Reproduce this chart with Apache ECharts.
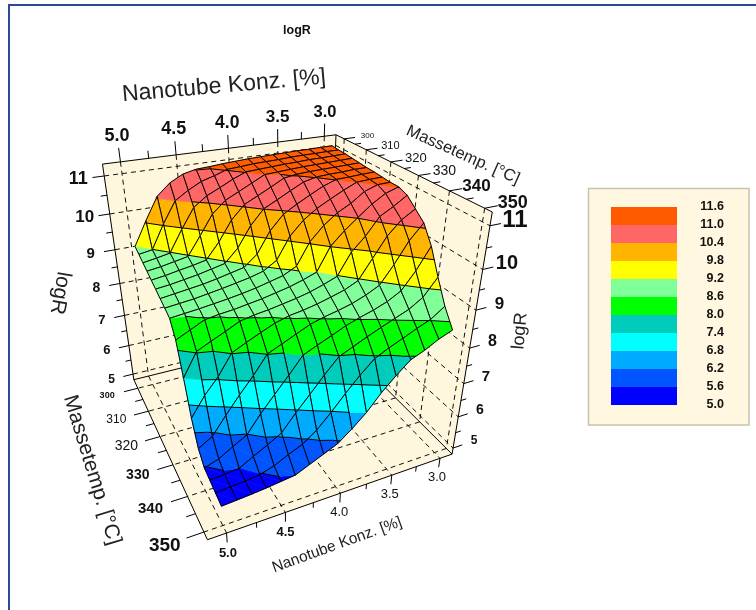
<!DOCTYPE html>
<html><head><meta charset="utf-8">
<style>html,body{margin:0;padding:0;background:#fff}#c{width:756px;height:610px}</style>
<script src="https://cdn.jsdelivr.net/npm/echarts@6/dist/echarts.min.js"></script>
</head><body><div id="c"></div>
<script>
// ---------- data ----------
const conc = [5,4.875,4.75,4.625,4.5,4.375,4.25,4.125,4,3.875,3.75,3.625,3.5,3.375,3.25,3.125,3];
const temp = [300,303.125,306.25,309.375,312.5,315.625,318.75,321.875,325,328.125,331.25,334.375,337.5,340.625,343.75,346.875,350];
// one row per conc, one column per temp
const logR = [
[9.2,9.13,9.05,8.98,8.9,8.83,8.75,8.68,8.6,8.22,7.4,6.5,5.87,5.58,5.52,5.46,5.4],
[9.85,9.19,9.11,9.03,8.95,8.87,8.8,8.72,8.64,8.4,8.03,7.04,6.11,5.72,5.56,5.5,5.43],
[10.45,9.84,9.18,9.1,9.02,8.93,8.85,8.76,8.68,8.58,8.21,7.47,6.61,5.96,5.6,5.53,5.46],
[10.75,10.4,9.76,9.17,9.08,8.99,8.9,8.82,8.73,8.64,8.38,8.02,7.08,6.18,5.83,5.58,5.5],
[10.93,10.62,10.29,9.67,9.16,9.07,8.97,8.88,8.78,8.68,8.56,8.2,7.52,6.68,6.04,5.71,5.55],
[11.01,10.8,10.54,10.19,9.58,9.15,9.05,8.95,8.84,8.74,8.64,8.37,8.01,7.12,6.27,5.91,5.6],
[11.03,10.9,10.7,10.49,10.1,9.5,9.13,9.02,8.91,8.8,8.69,8.53,8.18,7.55,6.73,6.09,5.78],
[11.06,11.02,10.87,10.66,10.45,10.03,9.42,9.12,9,8.88,8.76,8.64,8.35,8,7.15,6.38,5.96],
[11.08,11.04,11.01,10.83,10.62,10.41,9.97,9.34,9.09,8.96,8.83,8.7,8.52,8.17,7.58,6.77,6.14],
[11.1,11.07,11.03,11,10.79,10.58,10.34,9.91,9.27,9.07,8.92,8.78,8.63,8.33,7.98,7.2,6.45],
[11.11,11.08,11.05,11.02,10.97,10.76,10.54,10.26,9.85,9.2,9.04,8.88,8.71,8.5,8.15,7.6,6.8],
[11.12,11.09,11.07,11.04,11.02,10.93,10.72,10.5,10.2,9.81,9.18,8.99,8.81,8.63,8.32,7.95,7.24],
[11.13,11.11,11.08,11.06,11.04,11.01,10.89,10.68,10.46,10.14,9.74,9.16,8.95,8.74,8.48,8.14,7.61],
[11.14,11.12,11.1,11.07,11.05,11.03,11.01,10.85,10.64,10.42,10.08,9.66,9.13,8.88,8.63,8.3,7.94],
[11.14,11.12,11.1,11.08,11.06,11.04,11.02,11,10.88,10.69,10.51,10.16,9.59,9.08,8.78,8.47,8.1],
[11.15,11.13,11.11,11.09,11.07,11.06,11.04,11.02,11,10.9,10.7,10.5,10.12,9.52,9.01,8.62,8.3],
[11.15,11.13,11.12,11.1,11.08,11.06,11.05,11.03,11.01,11.01,10.92,10.71,10.5,10.07,9.45,8.88,8.45]
];
const levels = [5.0,5.6,6.2,6.8,7.4,8.0,8.6,9.2,9.8,10.4,11.0,11.6];
const levelLabels = ['5.0','5.6','6.2','6.8','7.4','8.0','8.6','9.2','9.8','10.4','11.0','11.6'];
const bandColors = ['#0000FF','#0055FF','#00AAFF','#00FFFF','#00CCBB','#00FF00','#80FF99','#FFFF00','#FFB400','#FF6666','#FF5A00'];
const concTicks = [5,4.5,4,3.5,3];
const concMinor = [4.75,4.25,3.75,3.25];
const tempTicks = [300,310,320,330,340,350];
const tempMinor = [305,315,325,335,345];
const zTicks = [5,6,7,8,9,10,11];
const zMinor = [5.5,6.5,7.5,8.5,9.5,10.5];
const concLabels = ['5.0','4.5','4.0','3.5','3.0'];
const topConcFont = [18,18,17.5,17,16.5];
const lowConcFont = [13,13,13,13,13];
const topTempFont = [8,11,13,14,17,18];
const lowTempFont = [9,12,14,14,15,19];
const leftZFont = [12,13,13,14,15,17,18];
const rightZFont = [12,14,15,16,17,20,24];

// ---------- view ----------
const box = {cMax:5.155,cMin:2.87,tMin:296,tMax:352,zLo:4.8,zHi:11.3};
const cameraAnchors = [
 [0,0,1,103,165],[1,0,1,335,134],[1,1,1,493,212],[1,1,0,451,453],
 [0,1,0,208,541],[0,0,0,133,378],[1,0,0,330,333]
];
function fitCamera(a){
  const n=11,A=[...Array(n)].map(()=>Array(n+1).fill(0));
  const add=(r,b)=>{for(let i=0;i<n;i++){for(let j=0;j<n;j++)A[i][j]+=r[i]*r[j];A[i][n]+=r[i]*b;}};
  a.forEach(([X,Y,W,u,v])=>{
    add([X,Y,W,1,0,0,0,0,-u*X,-u*Y,-u*W],u);
    add([0,0,0,0,X,Y,W,1,-v*X,-v*Y,-v*W],v);
  });
  for(let i=0;i<n;i++){
    let p=i;for(let k=i+1;k<n;k++)if(Math.abs(A[k][i])>Math.abs(A[p][i]))p=k;
    [A[i],A[p]]=[A[p],A[i]];
    for(let k=0;k<n;k++)if(k!==i){const f=A[k][i]/A[i][i];for(let j=i;j<=n;j++)A[k][j]-=f*A[i][j];}
  }
  return A.map((r,i)=>r[n]/r[i]);
}
const H = fitCamera(cameraAnchors);
function project(c,T,z){
  const X=(box.cMax-c)/(box.cMax-box.cMin),Y=(T-box.tMin)/(box.tMax-box.tMin),W=(z-box.zLo)/(box.zHi-box.zLo);
  const d=H[8]*X+H[9]*Y+H[10]*W+1;
  return [(H[0]*X+H[1]*Y+H[2]*W+H[3])/d,(H[4]*X+H[5]*Y+H[6]*W+H[7])/d];
}
const P=(api,p)=>api.coord(project(p[0],p[1],p[2]));

// ---------- helpers ----------
function layer(items,draw){
  return {type:'custom',coordinateSystem:'cartesian2d',silent:true,clip:false,animation:false,
    data:items.map((_,k)=>[k,0]),renderItem:(p,api)=>draw(items[p.dataIndex],api)};
}
const line=(pts,width,dash,color)=>({type:'polyline',shape:{points:pts},
  style:{stroke:color||'#000',lineWidth:width||1,fill:'none',lineDash:dash||null}});
const {cMax,cMin,tMin,tMax,zLo,zHi}=box;

// ---------- walls ----------
const walls=[
 [[cMax,tMin,zHi],[cMin,tMin,zHi],[cMin,tMin,zLo],[cMax,tMin,zLo]],
 [[cMin,tMin,zHi],[cMin,tMax,zHi],[cMin,tMax,zLo],[cMin,tMin,zLo]],
 [[cMax,tMin,zLo],[cMin,tMin,zLo],[cMin,tMax,zLo],[cMax,tMax,zLo]]
];
const wallSeries=layer(walls,(w,api)=>({type:'polygon',shape:{points:w.map(p=>P(api,p))},
  style:{fill:'#FFF6DE',stroke:'#FFF6DE',lineWidth:1}}));

// ---------- grid lines ----------
const gridLines=[];
concTicks.forEach(c=>{gridLines.push([[c,tMin,zHi],[c,tMin,zLo]]);gridLines.push([[c,tMin,zLo],[c,tMax,zLo]]);});
tempTicks.forEach(T=>{gridLines.push([[cMin,T,zHi],[cMin,T,zLo]]);gridLines.push([[cMin,T,zLo],[cMax,T,zLo]]);});
zTicks.forEach(z=>{gridLines.push([[cMax,tMin,z],[cMin,tMin,z]]);gridLines.push([[cMin,tMin,z],[cMin,tMax,z]]);});
const gridSeries=layer(gridLines,(s,api)=>line(s.map(p=>P(api,p)),1,[5,4],'#111'));

// ---------- box edges and ticks ----------
const edges=[
 [[cMax,tMin,zHi],[cMin,tMin,zHi]],[[cMin,tMin,zHi],[cMin,tMax,zHi]],
 [[cMin,tMax,zHi],[cMin,tMax,zLo]],[[cMin,tMax,zLo],[cMax,tMax,zLo]],
 [[cMax,tMax,zLo],[cMax,tMin,zLo]],[[cMax,tMin,zLo],[cMax,tMin,zHi]],
 [[cMax,tMin,zLo],[cMin,tMin,zLo]],[[cMin,tMin,zLo],[cMin,tMax,zLo]],[[cMin,tMin,zLo],[cMin,tMin,zHi]]
];
const tickSegs=[];
const addTicks=(majors,minors,from,off)=>{
  majors.forEach(v=>{const a=from(v);tickSegs.push([a,a.map((x,i)=>x+off[i])]);});
  minors.forEach(v=>{const a=from(v);tickSegs.push([a,a.map((x,i)=>x+off[i]*0.55)]);});
};
addTicks(concTicks,concMinor,c=>[c,tMin,zHi],[0,0,0.35]);
addTicks(concTicks,concMinor,c=>[c,tMax,zLo],[0,0,-0.3]);
addTicks(tempTicks,tempMinor,T=>[cMin,T,zHi],[-0.12,0,0]);
addTicks(tempTicks,tempMinor,T=>[cMax,T,zLo],[0.14,0,0]);
addTicks(zTicks,zMinor,z=>[cMax,tMin,z],[0.1,0,0]);
addTicks(zTicks,zMinor,z=>[cMin,tMax,z],[-0.1,0,0]);
const edgeSeries=layer(edges.concat(tickSegs),(s,api)=>line(s.map(p=>P(api,p)),1,null,'#000'));

// ---------- surface ----------
const cells=[];
for(let i=0;i<conc.length-1;i++)for(let j=0;j<temp.length-1;j++)cells.push([i,j]);
cells.sort((a,b)=>(b[0]-b[1])-(a[0]-a[1]));
const vert=(i,j)=>[conc[i],temp[j],logR[i][j]];
const mix=(a,b,f)=>a.map((x,k)=>x+(b[k]-x)*f);
function clipHalf(poly,level,above){
  const out=[];
  poly.forEach((a,k)=>{
    const b=poly[(k+1)%poly.length];
    const ai=above?a[2]>=level:a[2]<=level,bi=above?b[2]>=level:b[2]<=level;
    if(ai)out.push(a);
    if(ai!==bi)out.push(mix(a,b,(level-a[2])/(b[2]-a[2])));
  });
  return out;
}
function drawCell(cell,api){
  const [i,j]=cell;
  const q=[vert(i,j),vert(i+1,j),vert(i+1,j+1),vert(i,j+1)];
  const tris=[[q[0],q[1],q[2]],[q[0],q[2],q[3]]];
  const kids=[];
  tris.forEach(tri=>{
    bandColors.forEach((col,b)=>{
      let poly=clipHalf(tri,levels[b],true);
      if(poly.length)poly=clipHalf(poly,levels[b+1],false);
      if(poly.length>2)kids.push({type:'polygon',shape:{points:poly.map(p=>P(api,p))},
        style:{fill:col,stroke:col,lineWidth:0.6}});
    });
  });
  tris.forEach(tri=>{
    levels.forEach(l=>{
      const pts=[];
      tri.forEach((a,k)=>{
        const b=tri[(k+1)%3];
        if((a[2]-l)*(b[2]-l)<0)pts.push(P(api,mix(a,b,(l-a[2])/(b[2]-a[2]))));
      });
      if(pts.length===2)kids.push(line(pts,1,null,'#000'));
    });
  });
  kids.push(line(q.concat([q[0]]).map(p=>P(api,p)),1,null,'#000'));
  return {type:'group',children:kids};
}
const surfaceSeries=layer(cells,drawCell);

// ---------- tick labels ----------
const labels=[];
const addLabels=(vals,txt,fonts,pos,bold)=>vals.forEach((v,k)=>labels.push({p:pos(v),t:txt(k),f:fonts[k],b:bold(k)}));
addLabels(concTicks,k=>concLabels[k],topConcFont,c=>[c,tMin,zHi+0.65],()=>true);
addLabels(concTicks,k=>concLabels[k],lowConcFont,c=>[c,tMax,zLo-0.65],k=>k<2);
addLabels(tempTicks,k=>String(tempTicks[k]),topTempFont,T=>[cMin-0.26,T,zHi],k=>k>=4);
addLabels(tempTicks,k=>String(tempTicks[k]),lowTempFont,T=>[cMax+0.31,T,zLo],k=>k===0||k>=3);
addLabels(zTicks,k=>String(zTicks[k]),leftZFont,z=>[cMax+0.22,tMin,z],()=>true);
addLabels(zTicks,k=>String(zTicks[k]),rightZFont,z=>[cMin-0.23,tMax,z],()=>true);
const labelSeries=layer(labels,(l,api)=>{
  const c=P(api,l.p);
  return {type:'text',x:c[0],y:c[1],style:{text:l.t,fontSize:l.f,fontFamily:'"Liberation Sans",Arial,sans-serif',
    fontWeight:l.b?'bold':'normal',fill:'#111',align:'center',verticalAlign:'middle'}};
});

// ---------- axis titles ----------
const axisTitles=[
 {t:'Nanotube Konz. [%]',x:224,y:86,r:5,f:23,w:'normal'},
 {t:'Massetemp. [°C]',x:463,y:155,r:-24,f:16.5,w:'normal'},
 {t:'logR',x:60,y:293,r:-100,f:21,w:'normal'},
 {t:'logR',x:520,y:331,r:85,f:18,w:'normal'},
 {t:'Massetemp. [°C]',x:92,y:470,r:-73,f:21,w:'normal'},
 {t:'Nanotube Konz. [%]',x:337,y:545,r:20,f:15.4,w:'normal'}
];
const titleSeries=layer(axisTitles,(a,api)=>{
  const c=api.coord([a.x,a.y]);
  return {type:'text',x:c[0],y:c[1],rotation:a.r*Math.PI/180,style:{text:a.t,fontSize:a.f,
    fontFamily:'"Liberation Sans",Arial,sans-serif',fontWeight:a.w,fill:'#222',align:'center',verticalAlign:'middle'}};
});

// ---------- colour key ----------
const keyBox={x0:588.5,y0:188.5,x1:749,y1:425,sx0:611,sx1:677,sTop:207,step:18,lx:724};
const keyFrame=layer([0],(_,api)=>{
  const a=api.coord([keyBox.x0,keyBox.y0]),b=api.coord([keyBox.x1,keyBox.y1]);
  return {type:'rect',shape:{x:a[0],y:a[1],width:b[0]-a[0],height:b[1]-a[1]},style:{fill:'#FFF7E0',stroke:'#C8C2AE',lineWidth:1.5}};
});
const keySwatches=layer(bandColors.map((c,k)=>k),(k,api)=>{
  const row=bandColors.length-1-k,a=api.coord([keyBox.sx0,keyBox.sTop+row*keyBox.step]),b=api.coord([keyBox.sx1,keyBox.sTop+(row+1)*keyBox.step]);
  return {type:'rect',shape:{x:a[0],y:a[1],width:b[0]-a[0],height:b[1]-a[1]},style:{fill:bandColors[k]}};
});
const keyLabels=layer(levelLabels.map((t,k)=>k),(k,api)=>{
  const row=levelLabels.length-1-k,a=api.coord([keyBox.lx,keyBox.sTop+row*keyBox.step]);
  return {type:'text',x:a[0],y:a[1],style:{text:levelLabels[k],fontSize:12.5,fontWeight:'bold',
    fontFamily:'"Liberation Sans",Arial,sans-serif',fill:'#111',align:'right',verticalAlign:'middle'}};
});

// ---------- window frame ----------
const frame=[[[9,610],[9,5],[756,5]]];
const frameSeries=layer(frame,(f,api)=>line(f.map(p=>api.coord(p)),2,null,'#2C4A9A'));

const chart=echarts.init(document.getElementById('c'),null,{renderer:'canvas'});
chart.setOption({
  animation:false,backgroundColor:'#fff',
  title:{text:'logR',left:292,top:26,textAlign:'center',textVerticalAlign:'middle',
    textStyle:{fontSize:12.5,fontWeight:'bold',color:'#111',fontFamily:'"Liberation Sans",Arial,sans-serif'}},
  grid:{left:0,right:0,top:0,bottom:0},
  xAxis:{type:'value',min:0,max:756,show:false},
  yAxis:{type:'value',min:0,max:610,inverse:true,show:false},
  series:[frameSeries,wallSeries,gridSeries,edgeSeries,surfaceSeries,labelSeries,titleSeries,keyFrame,keySwatches,keyLabels]
});
</script></body></html>
